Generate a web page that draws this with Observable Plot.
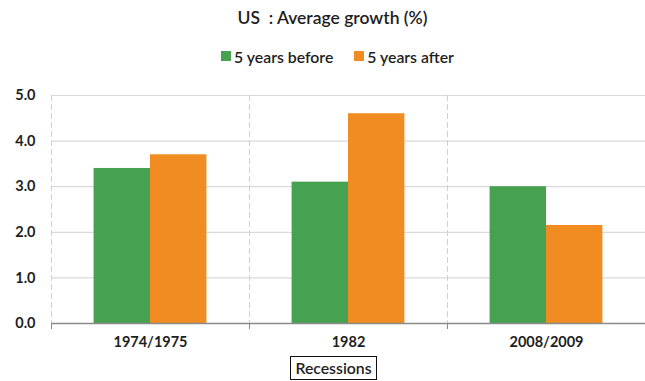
<!DOCTYPE html>
<html>
<head>
<meta charset="utf-8">
<script src="https://cdn.jsdelivr.net/npm/d3@7"></script>
<script src="https://cdn.jsdelivr.net/npm/@observablehq/plot@0.6"></script>
<style>
  body { margin: 0; background: #fff; font-family: Lato, "Noto Sans", sans-serif; color: #1e1e1e; }
  #wrap { width: 645px; height: 381px; position: relative; overflow: hidden; }
  .title { height: 36px; line-height: 36px; text-align: center; font-size: 17.5px; font-weight: 600; white-space: pre; padding-left: 20px; }
  .legend { height: 40px; display: flex; justify-content: center; align-items: center; gap: 21px; font-size: 15.8px; font-weight: 600; padding-left: 30px; }
  .legend span.item { display: flex; align-items: center; gap: 3px; }
  .legend i { display: inline-block; width: 10px; height: 10px; }
  .xlabel { text-align: center; padding-left: 22px; margin-top: 0px; }
  .xlabel span { display: inline-block; border: 1px solid #111; padding: 1px 4px 2px; font-size: 15.8px; font-weight: 600; line-height: 19px; }
</style>
</head>
<body>
<div id="wrap">
  <div class="title">US  : Average growth (%)</div>
  <div class="legend" id="legend"></div>
  <div id="chart"></div>
  <div class="xlabel"><span>Recessions</span></div>
</div>
<script>
// Average US growth around each recession (%)
const recessions = ["1974/1975", "1982", "2008/2009"];
const series = ["5 years before", "5 years after"];
const before = [3.4, 3.1, 3.0];
const after = [3.7, 4.6, 2.15];
const yTicks = [0, 1, 2, 3, 4, 5];
const colors = ["#46a151", "#f08c22"];

const rows = recessions.flatMap((r, i) => [
  {recession: r, series: series[0], value: before[i]},
  {recession: r, series: series[1], value: after[i]}
]);

// legend
const legend = document.getElementById("legend");
series.forEach((s, i) => {
  const item = document.createElement("span");
  item.className = "item";
  item.innerHTML = `<i style="background:${colors[i]}"></i>${s}`;
  legend.appendChild(item);
});

const height = 280, marginTop = 19, marginBottom = 33;
const plotH = height - marginTop - marginBottom;

const chart = Plot.plot({
  width: 645,
  height,
  marginTop,
  marginBottom,
  marginLeft: 50,
  marginRight: 0,
  style: {fontFamily: "Lato, 'Noto Sans', sans-serif", fontSize: "14.5px", fontWeight: "bold", color: "#1e1e1e", background: "#fff"},
  fx: {domain: recessions, padding: 0, label: null, axis: null},
  x: {domain: series, paddingInner: 0, paddingOuter: 0.755, round: false, axis: null},
  y: {domain: [0, 5], label: null, axis: null},
  color: {domain: series, range: colors},
  marks: [
    Plot.gridY(yTicks, {stroke: "#d9d9d9", strokeOpacity: 1, strokeWidth: 1.2}),
    Plot.frame({anchor: "left", stroke: "#d0d0d0", strokeOpacity: 1, strokeDasharray: "5,4"}),
    Plot.barY(rows, {fx: "recession", x: "series", y: "value", fill: "series"}),
    Plot.ruleY([0], {stroke: "#8a8a8a", strokeWidth: 1.3}),
    Plot.frame({anchor: "left", stroke: "#8a8a8a", strokeOpacity: 1, insetTop: plotH, insetBottom: -5}),
    Plot.axisY(yTicks, {
      tickFormat: d3.format(".1f"), tickSize: 0, tickPadding: 16, line: true,
      stroke: "#8a8a8a", fill: "#1e1e1e", label: null
    }),
    Plot.axisFx({anchor: "bottom", tickSize: 0, tickPadding: 13, label: null, fill: "#1e1e1e"})
  ]
});
document.getElementById("chart").appendChild(chart);
</script>
</body>
</html>
